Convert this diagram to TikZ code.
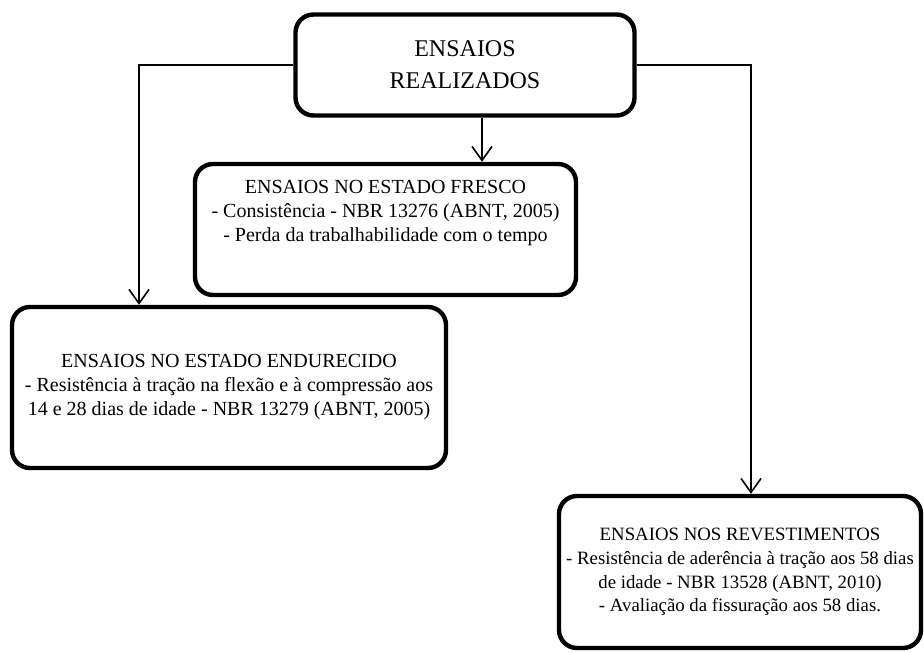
\documentclass[tikz,border=0pt]{standalone}
\usepackage{fontspec}
\setmainfont{Liberation Serif}
\usetikzlibrary{arrows.meta}

\tikzset{
  caixa/.style={draw, line width=2.2pt, rounded corners=9pt, inner sep=0pt},
  seta/.style={line width=0.8pt, -{Straight Barb[length=7pt,width=10pt]}}
}

\begin{document}
\begin{tikzpicture}[x=0.5pt,y=-0.5pt]
  \useasboundingbox (0,0) rectangle (924,652);

  \begin{scope}[every node/.style={caixa}]
    \node (realizados) at (465,65)
      {\parbox[c][50.5pt][c]{169.5pt}{\centering\fontsize{12}{16}\selectfont
        ENSAIOS\\ REALIZADOS}};
    \node (fresco) at (385.5,229.5)
      {\parbox[c][65.5pt][t]{190.5pt}{\centering\vspace*{8pt}
        ENSAIOS NO ESTADO FRESCO\\
        - Consistência - NBR 13276 (ABNT, 2005)\\
        - Perda da trabalhabilidade com o tempo}};
    \node (endurecido) at (229,387.5)
      {\parbox[c][80.5pt][c]{217pt}{\centering
        ENSAIOS NO ESTADO ENDURECIDO\\
        - Resistência à tração na flexão e à compressão aos\\
        14 e 28 dias de idade - NBR 13279 (ABNT, 2005)}};
    \node (revestimentos) at (740,572)
      {\parbox[c][76pt][c]{181pt}{\centering\fontsize{9.4}{11.8}\selectfont
        ENSAIOS NOS REVESTIMENTOS\\
        - Resistência de aderência à tração aos 58 dias\\
        de idade - NBR 13528 (ABNT, 2010)\\
        - Avaliação da fissuração aos 58 dias.}};
  \end{scope}

  % pontos de dobra das setas
  \coordinate (dobraesq) at (139,65);
  \coordinate (dobradir) at (751,65);
  \coordinate (meio) at (482,0);

  \draw[seta] (realizados.west) -- (dobraesq) -- (dobraesq |- endurecido.north);
  \draw[seta] (realizados.east) -- (dobradir) -- (dobradir |- revestimentos.north);
  \draw[seta] (meio |- realizados.south) -- (meio |- fresco.north);

\end{tikzpicture}
\end{document}
